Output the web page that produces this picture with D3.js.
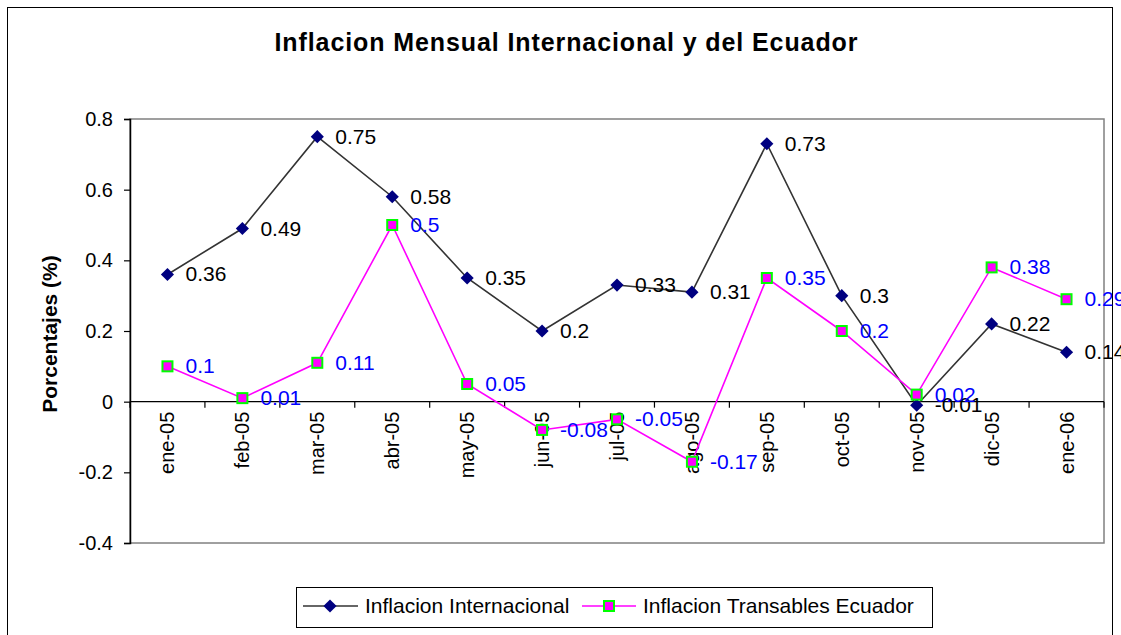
<!doctype html>
<meta charset="utf-8">
<title>Inflacion Mensual</title>
<script src="https://cdn.jsdelivr.net/npm/d3@7"></script>
<style>
  body { margin: 0; background: #fff; }
  text { font-family: Arial, "Liberation Sans", sans-serif; }
</style>
<body>
<svg id="chart" width="1121" height="635"></svg>
<script>

// data
var meses = ["ene-05","feb-05","mar-05","abr-05","may-05","jun-05","jul-05","ago-05","sep-05","oct-05","nov-05","dic-05","ene-06"];
var inflInternacional = [0.36, 0.49, 0.75, 0.58, 0.35, 0.2, 0.33, 0.31, 0.73, 0.3, -0.01, 0.22, 0.14];
var inflTransables = [0.1, 0.01, 0.11, 0.5, 0.05, -0.08, -0.05, -0.17, 0.35, 0.2, 0.02, 0.38, 0.29];
var yTicks = [-0.4, -0.2, 0, 0.2, 0.4, 0.6, 0.8];

var svg = d3.select("#chart");

// outer frame
svg.append("rect").attr("x", 7.5).attr("y", 7.5).attr("width", 1105).attr("height", 640)
  .attr("fill", "#fff").attr("stroke", "#000").attr("stroke-width", 1);

var pLeft = 130, pRight = 1104, pTop = 119, pBottom = 543;

var x = d3.scaleBand().domain(meses).range([pLeft, pRight]);
var y = d3.scaleLinear().domain([-0.4, 0.8]).range([pBottom, pTop]);

// plot area border (gray)
svg.append("rect").attr("x", pLeft).attr("y", pTop).attr("width", pRight - pLeft).attr("height", pBottom - pTop)
  .attr("fill", "none").attr("stroke", "#808080").attr("stroke-width", 1.5);

// y axis
var yAxis = d3.axisLeft(y).tickValues(yTicks).tickSize(6).tickPadding(11)
  .tickFormat(function(d) { return d === 0 ? "0" : String(+d.toFixed(1)); });
var gy = svg.append("g").attr("transform", "translate(" + pLeft + ",0)").call(yAxis);
gy.select(".domain").attr("stroke", "#000").attr("stroke-width", 1.5);
gy.selectAll(".tick line").attr("stroke", "#000").attr("stroke-width", 1.2);
gy.selectAll(".tick text").attr("font-size", 20).attr("fill", "#000").attr("font-family", "Arial, 'Liberation Sans', sans-serif");

// zero line with category ticks
var gx = svg.append("g").attr("transform", "translate(0," + y(0) + ")");
gx.append("line").attr("x1", pLeft).attr("x2", pRight).attr("stroke", "#000").attr("stroke-width", 1.2);
gx.selectAll("line.tk").data(d3.range(meses.length + 1)).enter().append("line")
  .attr("class", "tk")
  .attr("x1", function(i) { return pLeft + i * x.bandwidth(); })
  .attr("x2", function(i) { return pLeft + i * x.bandwidth(); })
  .attr("y1", 0).attr("y2", 6).attr("stroke", "#000").attr("stroke-width", 1.2);
gx.selectAll("text").data(meses).enter().append("text")
  .attr("transform", function(d) { return "translate(" + (x(d) + x.bandwidth() / 2 + 7) + ",10) rotate(-90)"; })
  .attr("text-anchor", "end")
  .attr("font-size", 20)
  .text(function(d) { return d; });

var cx = function(d, i) { return x(meses[i]) + x.bandwidth() / 2; };

// lines
var line = d3.line().x(function(d, i) { return cx(d, i); }).y(function(d) { return y(d); });
svg.append("path").datum(inflInternacional).attr("d", line)
  .attr("fill", "none").attr("stroke", "#333").attr("stroke-width", 1.6);
svg.append("path").datum(inflTransables).attr("d", line)
  .attr("fill", "none").attr("stroke", "#ff00ff").attr("stroke-width", 1.6);

// markers
var diamond = d3.symbol().type(d3.symbolDiamond2).size(110);
svg.selectAll("path.dia").data(inflInternacional).enter().append("path")
  .attr("class", "dia")
  .attr("d", diamond)
  .attr("transform", function(d, i) { return "translate(" + cx(d, i) + "," + y(d) + ")"; })
  .attr("fill", "#000080");
svg.selectAll("rect.sq").data(inflTransables).enter().append("rect")
  .attr("class", "sq")
  .attr("x", function(d, i) { return cx(d, i) - 5; })
  .attr("y", function(d) { return y(d) - 5; })
  .attr("width", 10).attr("height", 10)
  .attr("fill", "#ff00ff").attr("stroke", "#00ff00").attr("stroke-width", 2);

// data labels
var fmt = function(d) { return String(d); };
svg.selectAll("text.li").data(inflInternacional).enter().append("text")
  .attr("class", "li")
  .attr("x", function(d, i) { return cx(d, i) + 18; })
  .attr("y", function(d) { return y(d) + 7; })
  .attr("font-size", 21).attr("fill", "#000")
  .text(fmt);
svg.selectAll("text.lt").data(inflTransables).enter().append("text")
  .attr("class", "lt")
  .attr("x", function(d, i) { return cx(d, i) + 18; })
  .attr("y", function(d) { return y(d) + 7; })
  .attr("font-size", 21).attr("fill", "#0000ff")
  .text(fmt);

// title
svg.append("text").attr("x", 566).attr("y", 51).attr("text-anchor", "middle")
  .attr("font-size", 25).attr("font-weight", "bold")
  .attr("textLength", 583).attr("lengthAdjust", "spacing")
  .text("Inflacion Mensual Internacional y del Ecuador");

// y label
svg.append("text").attr("transform", "translate(57,334) rotate(-90)")
  .attr("text-anchor", "middle").attr("font-size", 21).attr("font-weight", "bold")
  .text("Porcentajes (%)");

// legend
var lg = svg.append("g");
lg.append("rect").attr("x", 296.5).attr("y", 587.5).attr("width", 636).attr("height", 40)
  .attr("fill", "#fff").attr("stroke", "#000").attr("stroke-width", 1);
lg.append("line").attr("x1", 303).attr("x2", 358).attr("y1", 606).attr("y2", 606)
  .attr("stroke", "#333").attr("stroke-width", 1.6);
lg.append("path").attr("d", diamond).attr("transform", "translate(330,606)").attr("fill", "#000080");
lg.append("text").attr("x", 365).attr("y", 613).attr("font-size", 21).text("Inflacion Internacional");
lg.append("line").attr("x1", 582).attr("x2", 636).attr("y1", 606).attr("y2", 606)
  .attr("stroke", "#ff00ff").attr("stroke-width", 1.6);
lg.append("rect").attr("x", 604).attr("y", 601).attr("width", 10).attr("height", 10)
  .attr("fill", "#ff00ff").attr("stroke", "#00ff00").attr("stroke-width", 2);
lg.append("text").attr("x", 643).attr("y", 613).attr("font-size", 21).text("Inflacion Transables Ecuador");

</script>
</body>
